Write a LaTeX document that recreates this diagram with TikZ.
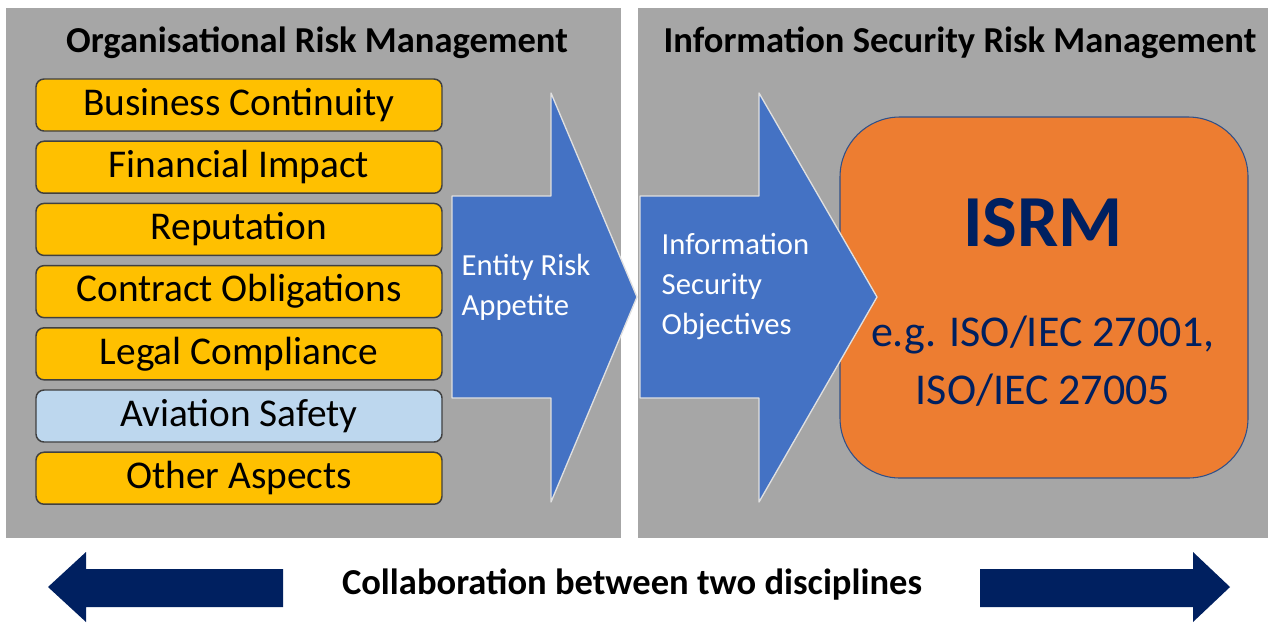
\documentclass[tikz,border=0pt]{standalone}
\usepackage{fontspec}
\setmainfont{Carlito}
\definecolor{panelgray}{HTML}{A6A6A6}
\definecolor{riskyellow}{HTML}{FFC000}
\definecolor{skyblue}{HTML}{BDD7EE}
\definecolor{arrowblue}{HTML}{4472C4}
\definecolor{isrmorange}{HTML}{ED7D31}
\definecolor{navy}{HTML}{002060}
\begin{document}
\begin{tikzpicture}[x=0.75pt,y=-0.75pt,line join=round,
		panel/.style={fill=panelgray},
		title/.style={font=\fontsize{27.4}{32}\selectfont\bfseries},
		riskbox/.style={draw=black!75,line width=1.1pt,rounded corners=6pt,fill=riskyellow,
			minimum width=304.5pt,minimum height=39pt,font=\fontsize{29.5}{34}\selectfont},
		bigarrow/.style={fill=arrowblue,draw=white!88!black,line width=1pt},
		arrowtext/.style={text=white,align=left,anchor=west,font=\fontsize{23}{30}\selectfont},
		navyarrow/.style={fill=navy}]
		\useasboundingbox (0,0) rectangle (1273,622);
		\fill[panel] (6,8) rectangle (621,538);
		\fill[panel] (638,8) rectangle (1268,538);
		\node[title] (orm) at (317,43) {Organisational Risk Management};
		\node[title] (isrmtitle) at (960,43) {Information Security Risk Management};
		% risk aspects
		\foreach \name/\txt/\col [count=\i from 0] in {bc/Business Continuity/riskyellow,
			fin/Financial Impact/riskyellow,rep/Reputation/riskyellow,
			con/Contract Obligations/riskyellow,leg/Legal Compliance/riskyellow,
			avi/Aviation Safety/skyblue,oth/Other Aspects/riskyellow}
			\node[riskbox,fill=\col] (\name) at (239,{105+62.2*\i}) {\txt};
		% ISRM block
		\node[draw=arrowblue!70!black,line width=0.8pt,fill=isrmorange,rounded corners=45pt,
			minimum width=306pt,minimum height=270.75pt] (isrm) at (1044,297.5) {};
		\node[font=\fontsize{55}{62}\selectfont\bfseries,text=navy] (isrmname) at (1043,223) {ISRM};
		\node[font=\fontsize{33}{43}\selectfont,text=navy,align=center] (iso) at (1043,361)
			{e.g. ISO/IEC 27001,\\ISO/IEC 27005};
		% flow arrows
		\draw[bigarrow] (452,196)--(551,196)--(551,93)--(637,297)--(551,502)--(551,398)--(452,398)--cycle;
		\draw[bigarrow] (640,196)--(759,196)--(759,93)--(877,297)--(759,502)--(759,398)--(640,398)--cycle;
		\node[arrowtext] (appetite) at (457,287) {Entity Risk\\Appetite};
		\node[arrowtext] (objectives) at (657,287) {Information\\Security\\Objectives};
		% collaboration
		\fill[navyarrow] (48,587)--(86,552)--(86,569)--(283,569)--(283,607)--(86,607)--(86,622)--cycle;
		\fill[navyarrow] (980,569)--(1193,569)--(1193,552)--(1230,587)--(1193,622)--(1193,607)--(980,607)--cycle;
		\node[title] (collab) at (632,585) {Collaboration between two disciplines};
\end{tikzpicture}
\end{document}
